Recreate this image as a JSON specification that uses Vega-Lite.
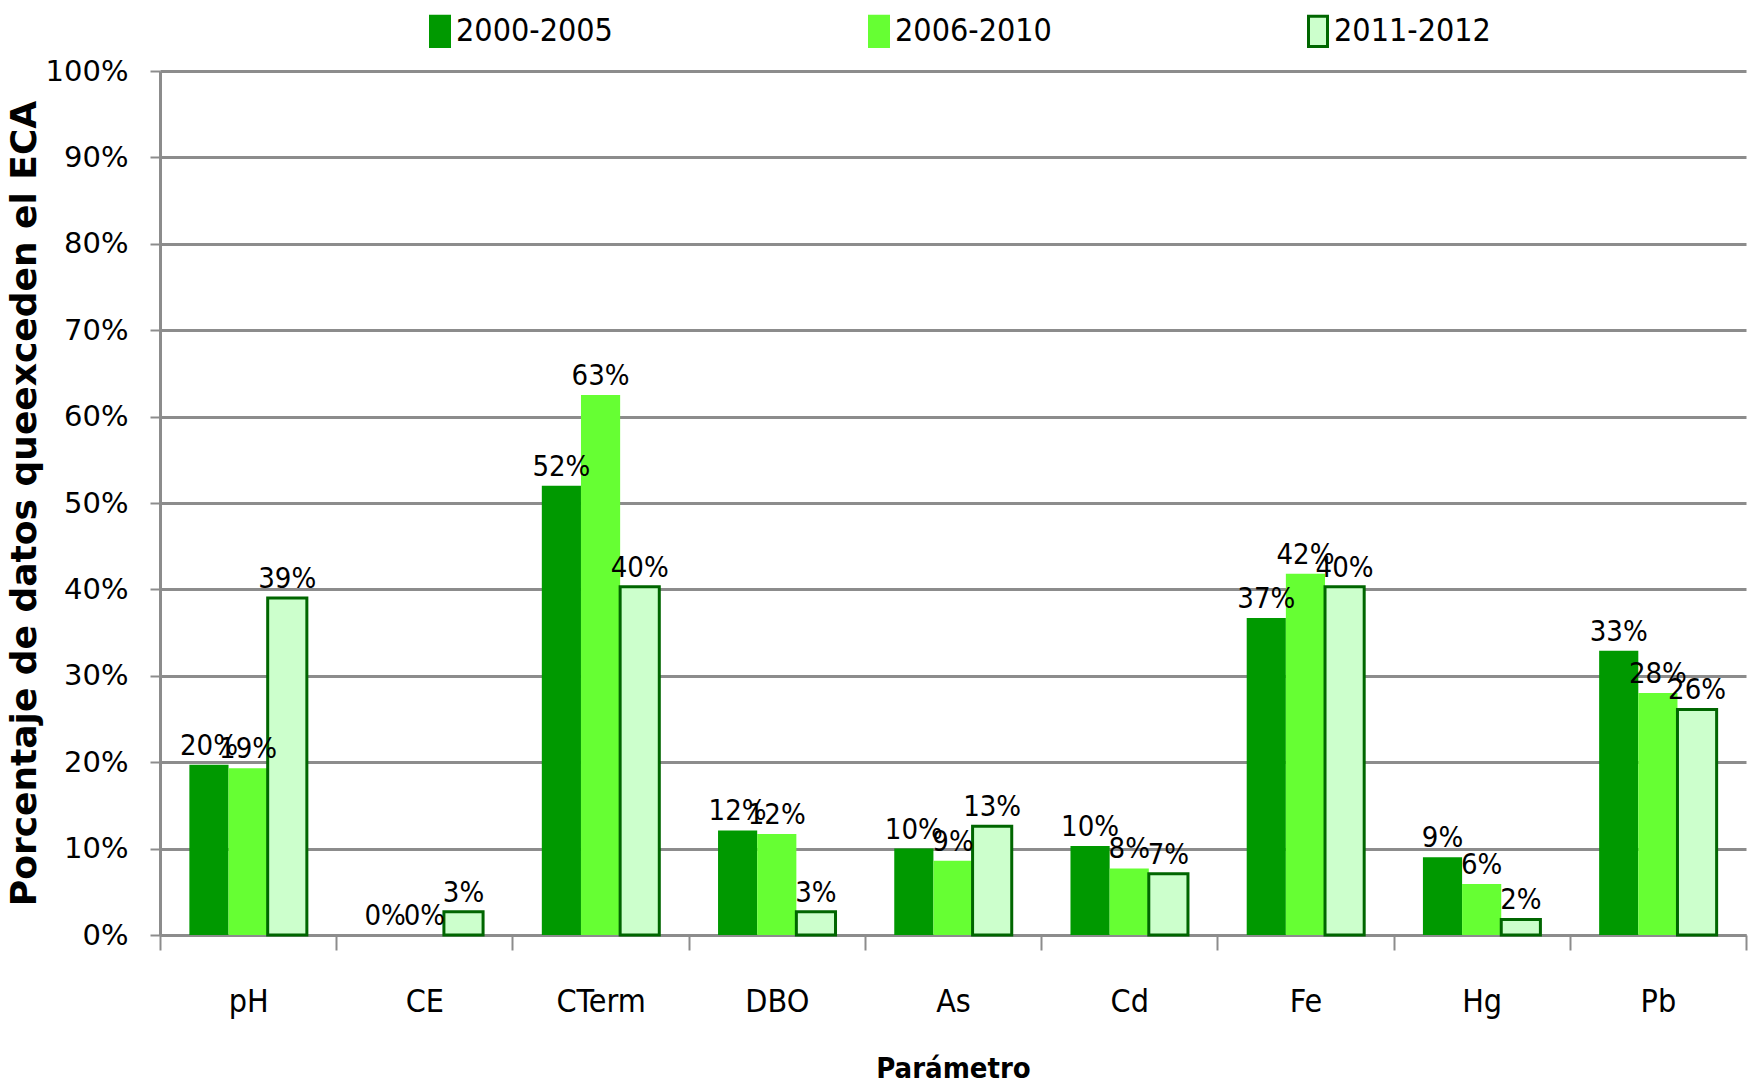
{
  "$schema": "https://vega.github.io/schema/vega-lite/v6.json",
  "width": 1586,
  "height": 864,
  "autosize": {"type": "none"},
  "padding": {"left": 160, "top": 71, "right": 12, "bottom": 153},
  "background": "white",
  "config": {"view": {"stroke": null}},
  "data": {
    "values": [
      {"param": "pH", "period": "2000-2005", "value": 0.197},
      {"param": "pH", "period": "2006-2010", "value": 0.193},
      {"param": "pH", "period": "2011-2012", "value": 0.390},
      {"param": "CE", "period": "2000-2005", "value": 0.0},
      {"param": "CE", "period": "2006-2010", "value": 0.0},
      {"param": "CE", "period": "2011-2012", "value": 0.027},
      {"param": "CTerm", "period": "2000-2005", "value": 0.520},
      {"param": "CTerm", "period": "2006-2010", "value": 0.625},
      {"param": "CTerm", "period": "2011-2012", "value": 0.403},
      {"param": "DBO", "period": "2000-2005", "value": 0.121},
      {"param": "DBO", "period": "2006-2010", "value": 0.117},
      {"param": "DBO", "period": "2011-2012", "value": 0.027},
      {"param": "As", "period": "2000-2005", "value": 0.100},
      {"param": "As", "period": "2006-2010", "value": 0.086},
      {"param": "As", "period": "2011-2012", "value": 0.126},
      {"param": "Cd", "period": "2000-2005", "value": 0.103},
      {"param": "Cd", "period": "2006-2010", "value": 0.077},
      {"param": "Cd", "period": "2011-2012", "value": 0.071},
      {"param": "Fe", "period": "2000-2005", "value": 0.367},
      {"param": "Fe", "period": "2006-2010", "value": 0.418},
      {"param": "Fe", "period": "2011-2012", "value": 0.403},
      {"param": "Hg", "period": "2000-2005", "value": 0.090},
      {"param": "Hg", "period": "2006-2010", "value": 0.059},
      {"param": "Hg", "period": "2011-2012", "value": 0.018},
      {"param": "Pb", "period": "2000-2005", "value": 0.329},
      {"param": "Pb", "period": "2006-2010", "value": 0.280},
      {"param": "Pb", "period": "2011-2012", "value": 0.261}
    ]
  },
  "encoding": {
    "x": {
      "field": "param",
      "type": "nominal",
      "sort": ["pH", "CE", "CTerm", "DBO", "As", "Cd", "Fe", "Hg", "Pb"],
      "scale": {"paddingInner": 0, "paddingOuter": 0},
      "axis": {
        "title": "Parámetro",
        "labelAngle": 0,
        "tickBand": "extent",
        "tickSize": 15,
        "tickWidth": 2,
        "tickColor": "#8c8c8c",
        "domainColor": "#8c8c8c",
        "domainWidth": 3,
        "grid": false,
        "labelPadding": 36,
        "labelFont": "DejaVu Sans Condensed, DejaVu Sans, sans-serif",
        "labelFontSize": 32,
        "labelColor": "#000",
        "titleFont": "DejaVu Sans Condensed, DejaVu Sans, sans-serif",
        "titleFontSize": 29,
        "titleFontWeight": "bold",
        "titleColor": "#000",
        "titlePadding": 37
      }
    },
    "xOffset": {
      "field": "period",
      "type": "nominal",
      "sort": ["2000-2005", "2006-2010", "2011-2012"],
      "scale": {"paddingInner": 0, "paddingOuter": 0.75}
    },
    "y": {
      "field": "value",
      "type": "quantitative",
      "scale": {"domain": [0, 1], "nice": false},
      "axis": {
        "title": "Porcentaje de datos queexceden el ECA",
        "values": [0, 0.1, 0.2, 0.3, 0.4, 0.5, 0.6, 0.7, 0.8, 0.9, 1],
        "format": ".0%",
        "grid": true,
        "gridColor": "#8c8c8c",
        "gridWidth": 3,
        "tickColor": "#8c8c8c",
        "tickSize": 10,
        "tickWidth": 2,
        "domainColor": "#8c8c8c",
        "domainWidth": 3,
        "labelPadding": 22,
        "labelFont": "DejaVu Sans",
        "labelFontSize": 29,
        "labelColor": "#000",
        "titleFont": "DejaVu Sans",
        "titleFontSize": 36,
        "titleFontWeight": "bold",
        "titleColor": "#000",
        "titlePadding": 2
      }
    }
  },
  "layer": [
    {
      "mark": {"type": "bar"},
      "encoding": {
        "color": {
          "field": "period",
          "type": "nominal",
          "sort": ["2000-2005", "2006-2010", "2011-2012"],
          "scale": {"domain": ["2000-2005", "2006-2010", "2011-2012"], "range": ["#009900", "#66ff33", "#ccffcc"]},
          "legend": {
            "title": null,
            "orient": "none",
            "direction": "horizontal",
            "legendX": 264,
            "legendY": -56,
            "columnPadding": 250,
            "symbolType": "M-1,-1.6H1V1.6H-1Z",
            "symbolSize": 361,
            "symbolStrokeWidth": 3,
            "symbolOpacity": 1,
            "labelOffset": 0,
            "labelFont": "DejaVu Sans Condensed, DejaVu Sans, sans-serif",
            "labelFontSize": 32,
            "labelColor": "#000",
            "labelLimit": 400
          }
        },
        "stroke": {
          "field": "period",
          "type": "nominal",
          "sort": ["2000-2005", "2006-2010", "2011-2012"],
          "scale": {"domain": ["2000-2005", "2006-2010", "2011-2012"], "range": ["#009900", "#66ff33", "#006600"]},
          "legend": null
        },
        "strokeWidth": {
          "condition": {"test": "datum.period === '2011-2012'", "value": 3},
          "value": 0
        }
      }
    },
    {
      "mark": {
        "type": "text",
        "baseline": "alphabetic",
        "dy": -10,
        "font": "DejaVu Sans Condensed, DejaVu Sans, sans-serif",
        "fontSize": 29,
        "color": "#000"
      },
      "encoding": {
        "text": {"field": "value", "type": "quantitative", "format": ".0%"}
      }
    }
  ]
}
